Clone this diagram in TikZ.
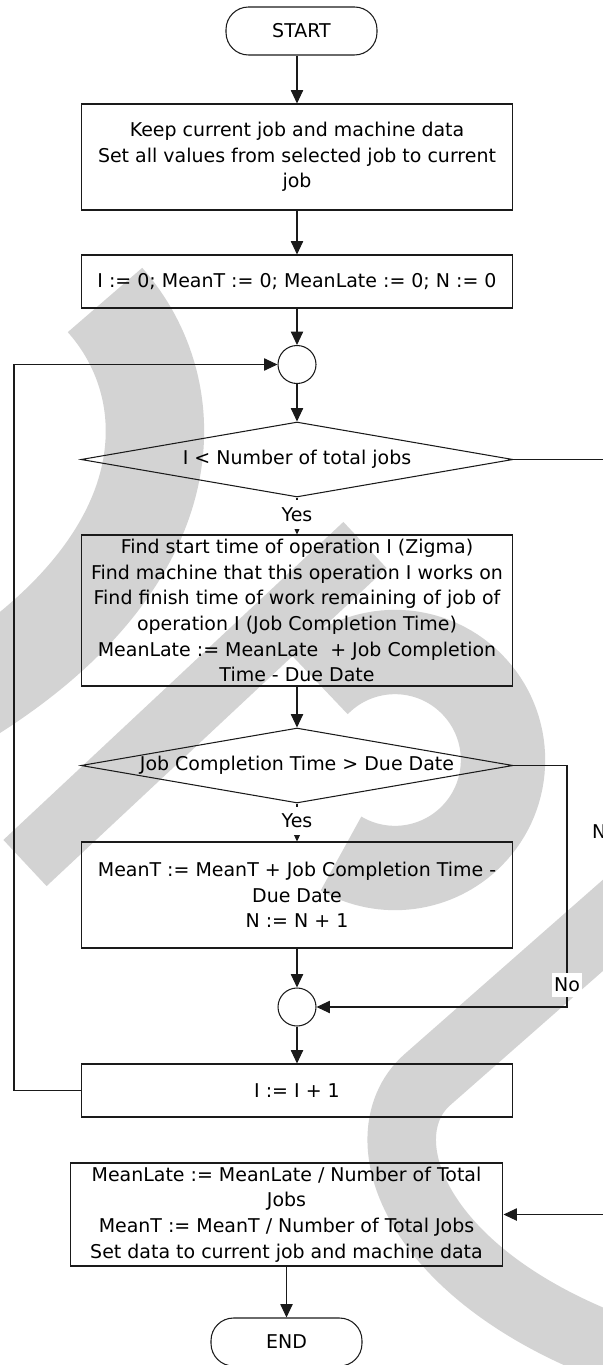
\documentclass[tikz,border=0pt]{standalone}
\usepackage{fontspec}
\setmainfont{DejaVu Sans}
\usetikzlibrary{arrows.meta,shapes.geometric}
\definecolor{wmgray}{HTML}{D3D3D3}
\definecolor{inkline}{HTML}{1A1A1A}

\begin{document}
\begin{tikzpicture}[x=0.02cm, y=-0.02cm, line width=0.6pt,
  font=\fontsize{10.8pt}{14.6pt}\selectfont,
  procbox/.style={draw=inkline, minimum width=8.64cm, align=center, inner sep=0pt},
  termbox/.style={draw=inkline, rounded corners=0.45cm, minimum width=3.02cm, minimum height=0.96cm, inner sep=0pt},
  decision/.style={diamond, draw=inkline, aspect=5.76, minimum width=8.64cm, minimum height=1.5cm, inner sep=0pt},
  joint/.style={circle, draw=inkline, minimum size=0.76cm, inner sep=0pt},
  flow/.style={draw=inkline, -{Triangle[length=7.6pt, width=7pt]}},
  lbl/.style={fill=white, inner xsep=1pt, inner ysep=3pt},
  yeslbl/.style={fill=white, inner xsep=1pt, inner ysep=4pt}]

% page frame, 1 unit = 1 px of the 602 x 1365 layout
\useasboundingbox (0,0) rectangle (602,1365);

% Watermark strokes behind the chart
\begin{scope}[wmgray, line cap=butt]
  \draw[line width=56pt] (105,300) .. controls (185,390) and (190,560) .. (-40,700);
  \draw[line width=36pt] (25,863) -- (365,545);
  \draw[line width=48pt] (395,760) ++(225:108) arc[start angle=225, end angle=480, radius=108];
  \draw[line width=39pt] (700,840) -- (427,1080) .. controls (360,1140) and (420,1300) .. (680,1370);
\end{scope}

% Route columns for the side connectors
\coordinate (loopx) at (14,0);
\coordinate (nox) at (567,0);
\coordinate (offx) at (605,0);

% Main column
\node[termbox] (start) at (301.5,31) {START};
\node[procbox, minimum height=2.12cm] (keep) at (297,157)
  {Keep current job and machine data\\Set all values from selected job to current\\job};
\node[procbox, minimum height=1.06cm] (init) at (297,281.5)
  {I := 0; MeanT := 0; MeanLate := 0; N := 0};
\node[joint] (merge1) at (297,364.5) {};
\node[decision] (testI) at (297,459.5) {I < Number of total jobs};
\node[procbox, minimum height=3.02cm] (find) at (297,610.5)
  {Find start time of operation I (Zigma)\\Find machine that this operation I works on\\Find finish time of work remaining of job of\\operation I (Job Completion Time)\\MeanLate := MeanLate\ \ + Job Completion\\Time - Due Date};
\node[decision] (testLate) at (297,765.5) {Job Completion Time > Due Date};
\node[procbox, minimum height=2.12cm] (tardy) at (297,895)
  {MeanT := MeanT + Job Completion Time -\\Due Date\\N := N + 1};
\node[joint] (merge2) at (297,1007) {};
\node[procbox, minimum height=1.06cm] (incI) at (297,1090.5) {I := I + 1};
\node[procbox, minimum width=8.66cm, minimum height=2.06cm] (means) at (286.5,1214.5)
  {MeanLate := MeanLate / Number of Total\\Jobs\\MeanT := MeanT / Number of Total Jobs\\Set data to current job and machine data};
\node[termbox] (end) at (286.5,1342) {END};

% Straight flow
\draw[flow] (start.south -| keep.north) -- (keep.north);
\draw[flow] (keep.south) -- (init.north);
\draw[flow] (init.south) -- (merge1.north);
\draw[flow] (merge1.south) -- (testI.north);
\draw[flow] (testI.south) -- node[yeslbl, pos=0.46] {Yes} (find.north);
\draw[flow] (find.south) -- (testLate.north);
\draw[flow] (testLate.south) -- node[yeslbl, pos=0.46] {Yes} (tardy.north);
\draw[flow] (tardy.south) -- (merge2.north);
\draw[flow] (merge2.south) -- (incI.north);
\draw[flow] (means.south) -- (end.north);

% No branches
\draw[flow] (testLate.east) -- (testLate.east -| nox)
  -- node[lbl, pos=0.909] {No} (merge2.east -| nox) -- (merge2.east);
\draw[flow] (testI.east) -- (testI.east -| offx)
  -- node[lbl, pos=0.493] {No} (means.east -| offx) -- (means.east);

% Loop back
\draw[flow] (incI.west) -- (incI.west -| loopx) -- (merge1.west -| loopx) -- (merge1.west);

\end{tikzpicture}
\end{document}
